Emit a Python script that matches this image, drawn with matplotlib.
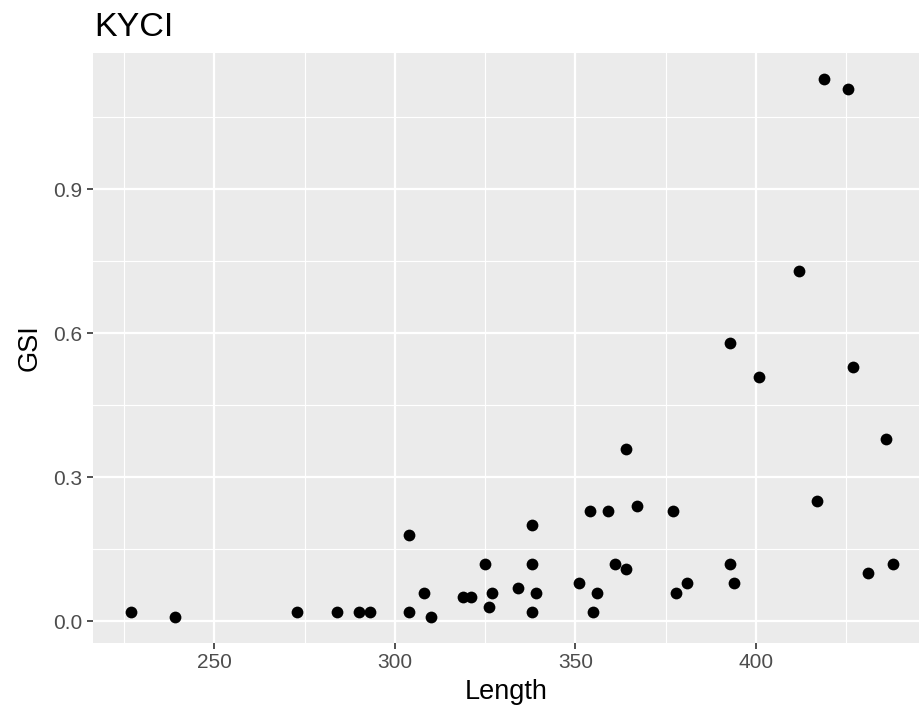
import matplotlib
matplotlib.use("Agg")
import matplotlib.pyplot as plt

# === DATA ===
length = [227, 239, 273, 284, 290, 293, 304, 304, 308, 310,
          319, 321, 325, 327, 326, 334, 338, 338, 339, 338,
          351, 354, 356, 355, 359, 361, 364, 364, 367, 377,
          378, 381, 393, 394, 417, 436, 431, 438, 419, 425.5,
          412, 393, 401, 427]
gsi = [0.02, 0.01, 0.02, 0.02, 0.02, 0.02, 0.18, 0.02, 0.06, 0.01,
       0.05, 0.05, 0.12, 0.06, 0.03, 0.07, 0.20, 0.12, 0.06, 0.02,
       0.08, 0.23, 0.06, 0.02, 0.23, 0.12, 0.36, 0.11, 0.24, 0.23,
       0.06, 0.08, 0.12, 0.08, 0.25, 0.38, 0.10, 0.12, 1.13, 1.11,
       0.73, 0.58, 0.51, 0.53]
x_ticks = [250, 300, 350, 400]
y_ticks = [0.0, 0.3, 0.6, 0.9]
y_labels = ['0.0', '0.3', '0.6', '0.9']

plt.rcParams['font.family'] = ['Liberation Sans', 'DejaVu Sans']

W, H = 920, 713
fig = plt.figure(figsize=(W / 100, H / 100), dpi=100)
ax = fig.add_axes([93 / W, (H - 643) / H, (W - 93) / W, (643 - 53) / H])

ax.set_facecolor('#EBEBEB')
ax.scatter(length, gsi, s=72, color='black', linewidths=0, zorder=3)

ax.set_xlim(216.4, 445.5)
ax.set_ylim(-0.045, 1.184)

ax.set_xticks(x_ticks)
ax.set_yticks(y_ticks)
ax.set_yticklabels(y_labels)
ax.set_xticks([225, 275, 325, 375, 425], minor=True)
ax.set_yticks([0.15, 0.45, 0.75, 1.05], minor=True)

ax.grid(which='major', color='white', linewidth=1.6, zorder=0)
ax.grid(which='minor', color='white', linewidth=0.8, zorder=0)
ax.set_axisbelow(True)
for s in ax.spines.values():
    s.set_visible(False)

ax.tick_params(which='major', length=4.5, width=1.2, color='#333333',
               labelsize=15, labelcolor='#4D4D4D', pad=3)
ax.tick_params(which='minor', length=0)

ax.set_xlabel('Length', fontsize=19.5, color='black', labelpad=5)
ax.set_ylabel('GSI', fontsize=19.5, color='black', labelpad=8)
ax.set_title('KYCI', fontsize=24.5, loc='left', pad=12, x=0.002)

fig.savefig('out.png', dpi=100)
